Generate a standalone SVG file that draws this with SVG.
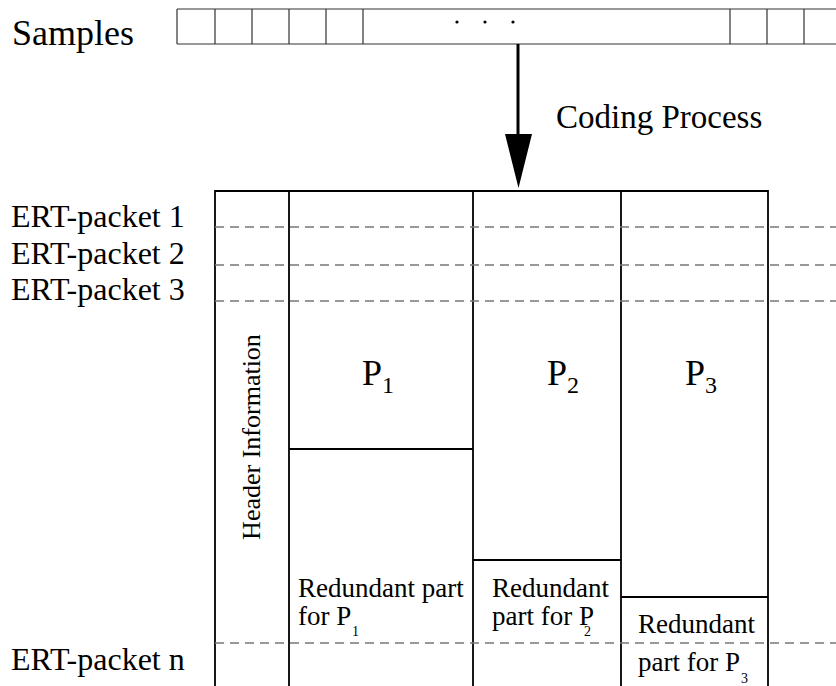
<svg xmlns="http://www.w3.org/2000/svg" width="836" height="686" viewBox="0 0 836 686" font-family="'Liberation Serif', 'DejaVu Serif', 'Times New Roman', serif">
<defs>
<style>
text{font-family:'Liberation Serif','DejaVu Serif','Times New Roman',serif;fill:#000}
.big{font-size:36px}
.lab{font-size:32px}
.p{font-size:36px}
.sub{font-size:24px}
.ssub{font-size:14px}
.red{font-size:27px}
.cell{stroke:#333;stroke-width:1.2;fill:none}
.frame{stroke:#000;stroke-width:1.8;fill:none}
.dash{stroke:#777;stroke-width:1.3;stroke-dasharray:9 6;fill:none}
</style>
</defs>
<rect width="836" height="686" fill="#fff"/>

<g id="samples">
<text class="big" x="12" y="45">Samples</text>
<path class="cell" d="M177,9H840M177,44H840M177,9V44M215,9V44M252,9V44M289,9V44M326,9V44M363,9V44M730,9V44M767,9V44M804,9V44"/>
<circle cx="457" cy="22" r="1.6"/>
<circle cx="485" cy="22" r="1.6"/>
<circle cx="513" cy="22" r="1.6"/>
</g>

<g id="connectors">
<line x1="518" y1="44" x2="518" y2="140" stroke="#000" stroke-width="3"/>
<polygon points="505,134 532,134 518.5,188" fill="#000"/>
<text x="556" y="128" style="font-size:33px">Coding Process</text>
</g>

<g id="labels">
<text class="lab" x="11" y="227">ERT-packet 1</text>
<text class="lab" x="11" y="264">ERT-packet 2</text>
<text class="lab" x="11" y="300">ERT-packet 3</text>
<text class="lab" x="11" y="670">ERT-packet n</text>
</g>

<g id="packets">
<path class="frame" d="M215,686V191H768V686M289,191V686M473,191V686M621,191V686"/>
<path class="dash" d="M215,227H836M215,265H836M215,301H836M215,643H836"/>
</g>

<g id="header">
<text class="red" style="font-size:26px" transform="translate(260,437) rotate(-90)" text-anchor="middle">Header Information</text>
</g>

<g id="p1">
<path class="frame" d="M289,449H473"/>
<text class="p" x="362" y="385">P<tspan class="sub" dy="8">1</tspan></text>
<text class="red" x="298" y="597">Redundant part<tspan x="298" y="625">for P</tspan><tspan class="ssub" x="352" y="636">1</tspan></text>
</g>

<g id="p2">
<path class="frame" d="M473,560H621"/>
<text class="p" x="547" y="385">P<tspan class="sub" dy="8">2</tspan></text>
<text class="red" x="492" y="597">Redundant<tspan x="492" y="625">part for P</tspan><tspan class="ssub" x="584" y="636">2</tspan></text>
</g>

<g id="p3">
<path class="frame" d="M621,597H768"/>
<text class="p" x="685" y="385">P<tspan class="sub" dy="8">3</tspan></text>
<text class="red" x="638" y="633">Redundant<tspan x="638" y="671">part for P</tspan><tspan class="ssub" x="741" y="683">3</tspan></text>
</g>
</svg>
